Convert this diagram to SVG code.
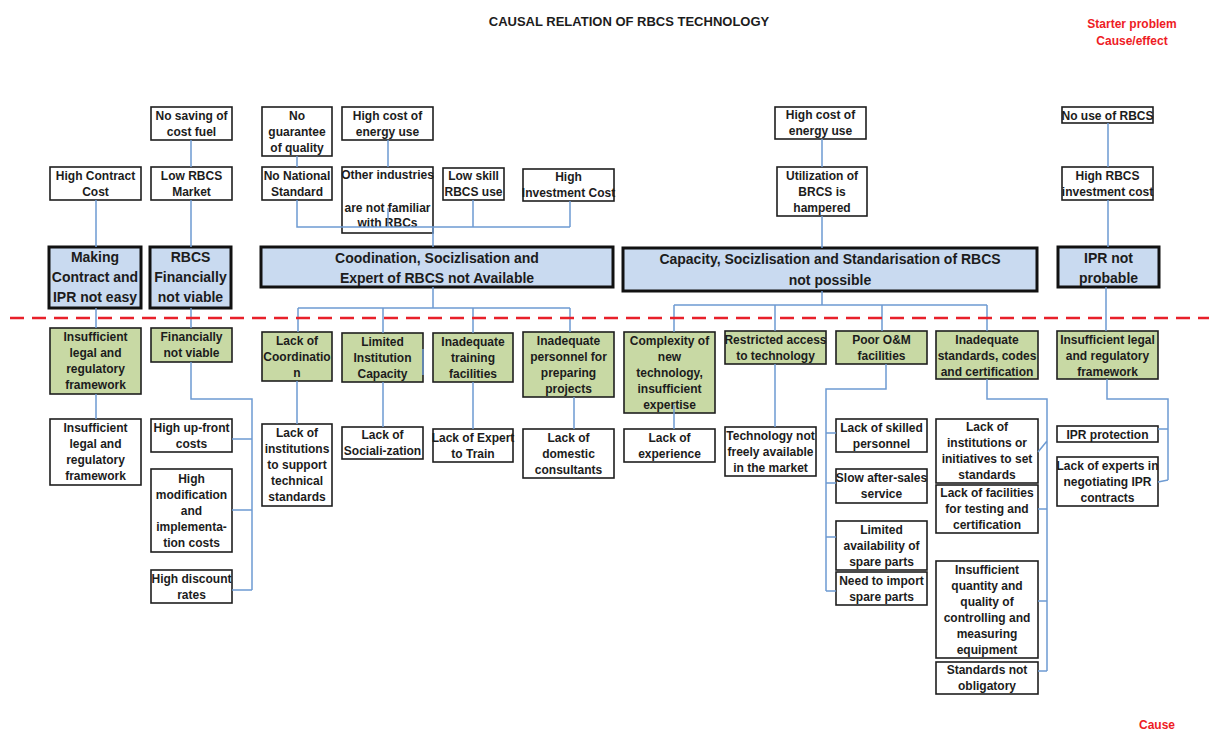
<svg xmlns="http://www.w3.org/2000/svg" width="1209" height="733" viewBox="0 0 1209 733">
  <style>
    text { font-family: "Liberation Sans", Arial, sans-serif; font-weight: bold; fill: #1c1c1c; text-anchor: middle; }
    .t { font-size: 12px; }
    .big { font-size: 14px; }
    .title { font-size: 13px; }
    .red { font-size: 12px; fill: #ee1c25; }
    .box { fill: #ffffff; stroke: #1e1e1e; stroke-width: 1.6; }
    .grn { fill: #c8d9a4; stroke: #1e1e1e; stroke-width: 1.6; }
    .prob { fill: #c9daf0; stroke: #111111; stroke-width: 3; }
    .con { fill: none; stroke: #6e9bd2; stroke-width: 1.5; }
    .cut { fill: none; stroke: #e8202a; stroke-width: 2.6; stroke-dasharray: 14 8; }
  </style>

  <!-- headings -->
  <text class="title" x="629" y="26">CAUSAL RELATION OF RBCS TECHNOLOGY</text>
  <text class="red" x="1132" y="28">Starter problem</text>
  <text class="red" x="1132" y="45">Cause/effect</text>
  <text class="red" x="1157" y="729">Cause</text>

  <!-- effects (upper tiers) -->
  <g id="no-saving"><rect class="box" x="151" y="107" width="81" height="33"/><text class="t" x="191.5" y="119.5">No saving of</text><text class="t" x="191.5" y="135.5">cost fuel</text></g>
  <g id="no-guarantee"><rect class="box" x="262" y="107" width="70" height="49"/><text class="t" x="297" y="119.5">No</text><text class="t" x="297" y="135.5">guarantee</text><text class="t" x="297" y="151.5">of quality</text></g>
  <g id="energy-cost-a"><rect class="box" x="342" y="107" width="91" height="33"/><text class="t" x="387.5" y="119.5">High cost of</text><text class="t" x="387.5" y="135.5">energy use</text></g>
  <g id="energy-cost-b"><rect class="box" x="775" y="107" width="91" height="32"/><text class="t" x="820.5" y="119">High cost of</text><text class="t" x="820.5" y="135">energy use</text></g>
  <g id="no-use"><rect class="box" x="1062" y="107" width="91" height="16"/><text class="t" x="1107.5" y="119.5">No use of RBCS</text></g>

  <g id="contract-cost"><rect class="box" x="50" y="167" width="91" height="33"/><text class="t" x="95.5" y="179.5">High Contract</text><text class="t" x="95.5" y="195.5">Cost</text></g>
  <g id="low-market"><rect class="box" x="151" y="167" width="81" height="33"/><text class="t" x="191.5" y="179.5">Low RBCS</text><text class="t" x="191.5" y="195.5">Market</text></g>
  <g id="no-standard"><rect class="box" x="262" y="167" width="70" height="33"/><text class="t" x="297" y="179.5">No National</text><text class="t" x="297" y="195.5">Standard</text></g>
  <g id="not-familiar"><rect class="box" x="342" y="167" width="91" height="66"/><text class="t" x="387.5" y="179">Other industries</text><text class="t" x="387.5" y="212">are not familiar</text><text class="t" x="387.5" y="227">with RBCs</text></g>
  <g id="low-skill"><rect class="box" x="443" y="168" width="61" height="32"/><text class="t" x="473.5" y="180">Low skill</text><text class="t" x="473.5" y="196">RBCS use</text></g>
  <g id="investment-cost"><rect class="box" x="523" y="169" width="91" height="32"/><text class="t" x="568.5" y="181">High</text><text class="t" x="568.5" y="197">Investment Cost</text></g>
  <g id="utilization"><rect class="box" x="777" y="167" width="90" height="49"/><text class="t" x="822" y="179.5">Utilization of</text><text class="t" x="822" y="195.5">BRCS is</text><text class="t" x="822" y="211.5">hampered</text></g>
  <g id="rbcs-investment"><rect class="box" x="1062" y="167" width="91" height="33"/><text class="t" x="1107.5" y="179.5">High RBCS</text><text class="t" x="1107.5" y="195.5">investment cost</text></g>

  <!-- starter problems -->
  <g id="p-contract"><rect class="prob" x="49" y="247" width="92" height="61"/><text class="big" x="95" y="262">Making</text><text class="big" x="95" y="282">Contract and</text><text class="big" x="95" y="302">IPR not easy</text></g>
  <g id="p-finance"><rect class="prob" x="150" y="247" width="81" height="61"/><text class="big" x="190.5" y="262">RBCS</text><text class="big" x="190.5" y="282">Financially</text><text class="big" x="190.5" y="302">not viable</text></g>
  <g id="p-coordination"><rect class="prob" x="261" y="247" width="352" height="40"/><text class="big" x="437" y="263">Coodination, Socizlisation  and</text><text class="big" x="437" y="283">Expert of RBCS not Available</text></g>
  <g id="p-capacity"><rect class="prob" x="623" y="248" width="414" height="43"/><text class="big" x="830" y="264">Capacity, Socizlisation  and Standarisation  of RBCS</text><text class="big" x="830" y="285">not possible</text></g>
  <g id="p-ipr"><rect class="prob" x="1058" y="247" width="101" height="40"/><text class="big" x="1108.5" y="263">IPR not</text><text class="big" x="1108.5" y="283">probable</text></g>

  <!-- first-level causes -->
  <g id="c-legal"><rect class="grn" x="50" y="328" width="91" height="66"/><text class="t" x="95.5" y="341">Insufficient</text><text class="t" x="95.5" y="357">legal and</text><text class="t" x="95.5" y="373">regulatory</text><text class="t" x="95.5" y="389">framework</text></g>
  <g id="c-financial"><rect class="grn" x="151" y="328" width="81" height="34"/><text class="t" x="191.5" y="341">Financially</text><text class="t" x="191.5" y="357">not viable</text></g>
  <g id="c-coordination"><rect class="grn" x="262" y="332" width="70" height="49"/><text class="t" x="297" y="344.5">Lack of</text><text class="t" x="297" y="360.5">Coordinatio</text><text class="t" x="297" y="376.5">n</text></g>
  <g id="c-institution"><rect class="grn" x="342" y="333" width="81" height="49"/><text class="t" x="382.5" y="345.5">Limited</text><text class="t" x="382.5" y="361.5">Institution</text><text class="t" x="382.5" y="377.5">Capacity</text></g>
  <g id="c-training"><rect class="grn" x="433" y="333" width="80" height="49"/><text class="t" x="473" y="345.5">Inadequate</text><text class="t" x="473" y="361.5">training</text><text class="t" x="473" y="377.5">facilities</text></g>
  <g id="c-personnel"><rect class="grn" x="523" y="332" width="91" height="65"/><text class="t" x="568.5" y="344.5">Inadequate</text><text class="t" x="568.5" y="360.5">personnel for</text><text class="t" x="568.5" y="376.5">preparing</text><text class="t" x="568.5" y="392.5">projects</text></g>
  <g id="c-complexity"><rect class="grn" x="624" y="332" width="91" height="81"/><text class="t" x="669.5" y="344.5">Complexity of</text><text class="t" x="669.5" y="360.5">new</text><text class="t" x="669.5" y="376.5">technology,</text><text class="t" x="669.5" y="392.5">insufficient</text><text class="t" x="669.5" y="408.5">expertise</text></g>
  <g id="c-access"><rect class="grn" x="725" y="331" width="101" height="33"/><text class="t" x="775.5" y="343.5">Restricted access</text><text class="t" x="775.5" y="359.5">to technology</text></g>
  <g id="c-om"><rect class="grn" x="836" y="331" width="91" height="33"/><text class="t" x="881.5" y="343.5">Poor O&amp;M</text><text class="t" x="881.5" y="359.5">facilities</text></g>
  <g id="c-standards"><rect class="grn" x="936" y="331" width="102" height="48"/><text class="t" x="987" y="343.5">Inadequate</text><text class="t" x="987" y="359.5">standards, codes</text><text class="t" x="987" y="375.5">and certification</text></g>
  <g id="c-ipr-legal"><rect class="grn" x="1057" y="331" width="101" height="48"/><text class="t" x="1107.5" y="343.5">Insufficient legal</text><text class="t" x="1107.5" y="359.5">and regulatory</text><text class="t" x="1107.5" y="375.5">framework</text></g>

  <!-- root causes -->
  <g id="r-legal"><rect class="box" x="50" y="419" width="91" height="66"/><text class="t" x="95.5" y="432">Insufficient</text><text class="t" x="95.5" y="448">legal and</text><text class="t" x="95.5" y="464">regulatory</text><text class="t" x="95.5" y="480">framework</text></g>
  <g id="r-upfront"><rect class="box" x="151" y="419" width="81" height="33"/><text class="t" x="191.5" y="431.5">High up-front</text><text class="t" x="191.5" y="447.5">costs</text></g>
  <g id="r-modification"><rect class="box" x="151" y="469" width="81" height="83"/><text class="t" x="191.5" y="482.5">High</text><text class="t" x="191.5" y="498.5">modification</text><text class="t" x="191.5" y="514.5">and</text><text class="t" x="191.5" y="530.5">implementa-</text><text class="t" x="191.5" y="546.5">tion costs</text></g>
  <g id="r-discount"><rect class="box" x="151" y="570" width="81" height="33"/><text class="t" x="191.5" y="582.5">High discount</text><text class="t" x="191.5" y="598.5">rates</text></g>
  <g id="r-institutions"><rect class="box" x="262" y="424" width="70" height="82"/><text class="t" x="297" y="437">Lack of</text><text class="t" x="297" y="453">institutions</text><text class="t" x="297" y="469">to support</text><text class="t" x="297" y="485">technical</text><text class="t" x="297" y="501">standards</text></g>
  <g id="r-socialization"><rect class="box" x="342" y="427" width="81" height="32"/><text class="t" x="382.5" y="439">Lack of</text><text class="t" x="382.5" y="455">Sociali-zation</text></g>
  <g id="r-expert"><rect class="box" x="433" y="429" width="80" height="33"/><text class="t" x="473" y="441.5">Lack of Expert</text><text class="t" x="473" y="457.5">to Train</text></g>
  <g id="r-consultants"><rect class="box" x="523" y="429" width="91" height="49"/><text class="t" x="568.5" y="441.5">Lack of</text><text class="t" x="568.5" y="457.5">domestic</text><text class="t" x="568.5" y="473.5">consultants</text></g>
  <g id="r-experience"><rect class="box" x="624" y="429" width="91" height="33"/><text class="t" x="669.5" y="441.5">Lack of</text><text class="t" x="669.5" y="457.5">experience</text></g>
  <g id="r-market"><rect class="box" x="725" y="427" width="91" height="49"/><text class="t" x="770.5" y="439.5">Technology not</text><text class="t" x="770.5" y="455.5">freely available</text><text class="t" x="770.5" y="471.5">in the market</text></g>
  <g id="r-skilled"><rect class="box" x="836" y="419" width="91" height="33"/><text class="t" x="881.5" y="431.5">Lack of skilled</text><text class="t" x="881.5" y="447.5">personnel</text></g>
  <g id="r-aftersales"><rect class="box" x="836" y="469" width="91" height="34"/><text class="t" x="881.5" y="482">Slow after-sales</text><text class="t" x="881.5" y="498">service</text></g>
  <g id="r-spares"><rect class="box" x="836" y="521" width="91" height="49"/><text class="t" x="881.5" y="533.5">Limited</text><text class="t" x="881.5" y="549.5">availability of</text><text class="t" x="881.5" y="565.5">spare parts</text></g>
  <g id="r-import"><rect class="box" x="836" y="572" width="91" height="33"/><text class="t" x="881.5" y="584.5">Need to import</text><text class="t" x="881.5" y="600.5">spare parts</text></g>
  <g id="r-initiatives"><rect class="box" x="936" y="419" width="102" height="64"/><text class="t" x="987" y="431">Lack of</text><text class="t" x="987" y="447">institutions or</text><text class="t" x="987" y="463">initiatives to set</text><text class="t" x="987" y="479">standards</text></g>
  <g id="r-testing"><rect class="box" x="936" y="485" width="102" height="48"/><text class="t" x="987" y="497">Lack of facilities</text><text class="t" x="987" y="513">for testing and</text><text class="t" x="987" y="529">certification</text></g>
  <g id="r-equipment"><rect class="box" x="936" y="561" width="102" height="97"/><text class="t" x="987" y="573.5">Insufficient</text><text class="t" x="987" y="589.5">quantity and</text><text class="t" x="987" y="605.5">quality of</text><text class="t" x="987" y="621.5">controlling and</text><text class="t" x="987" y="637.5">measuring</text><text class="t" x="987" y="653.5">equipment</text></g>
  <g id="r-obligatory"><rect class="box" x="936" y="662" width="102" height="32"/><text class="t" x="987" y="674">Standards not</text><text class="t" x="987" y="690">obligatory</text></g>
  <g id="r-ipr-protection"><rect class="box" x="1057" y="426" width="101" height="16"/><text class="t" x="1107.5" y="438.5">IPR protection</text></g>
  <g id="r-ipr-experts"><rect class="box" x="1057" y="457" width="101" height="49"/><text class="t" x="1107.5" y="469.5">Lack of experts in</text><text class="t" x="1107.5" y="485.5">negotiating IPR</text><text class="t" x="1107.5" y="501.5">contracts</text></g>

  <!-- connectors -->
  <g id="connectors" class="con">
    <path d="M96,200 V247 M96,308 V328 M96,394 V419"/>
    <path d="M191,140 V167 M191,200 V247 M191,308 V328"/>
    <path d="M191,362 V399 H252 V590 M232,439 H252 M232,510 H252 M232,590 H252"/>
    <path d="M297,156 V167 M297,200 V227 H570 M388,140 V167 M388,208 V227 M473,200 V227 M570,201 V227 M433,227 V247"/>
    <path d="M433,287 V308 M298,308 H570 M298,308 V332 M383,308 V333 M473,308 V333 M570,308 V332"/>
    <path d="M297,381 V424 M383,382 V427 M473,382 V429 M574,397 V429 M423,349 V375"/>
    <path d="M822,139 V167 M822,216 V248 M822,291 V305 M674,305 H987 M674,305 V332 M775,305 V331 M882,305 V331 M987,305 V331"/>
    <path d="M674,405 V429 M775,364 V427"/>
    <path d="M886,364 V389 H826 V591 M826,433 H836 M826,483 H836 M826,537 H836 M826,591 H836"/>
    <path d="M987,379 V399 H1047 V671 M1038,452 L1047,441 M1038,509 H1047 M1038,601 H1047 M1038,671 H1047"/>
    <path d="M1107,379 V399 H1168 V480 M1158,429 H1168 M1158,482 L1168,480"/>
    <path d="M1108,123 V167 M1108,200 V247 M1106,287 V331"/>
  </g>

  <!-- boundary between problems and causes -->
  <path class="cut" d="M10,318 H1209"/>
</svg>
